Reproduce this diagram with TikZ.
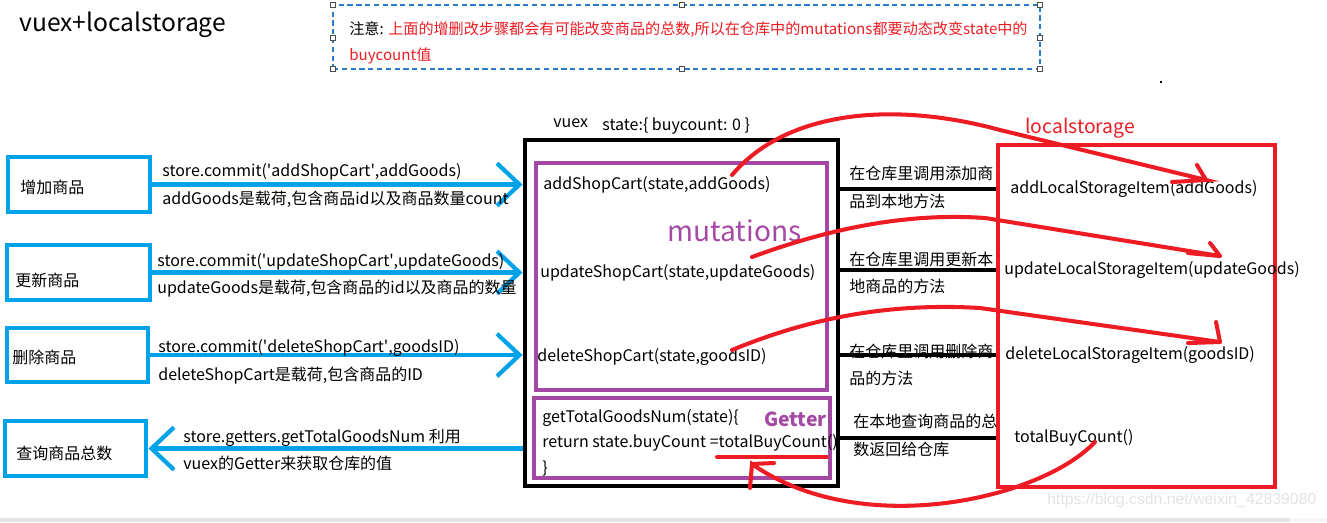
\documentclass[tikz,border=0pt]{standalone}
\usepackage{fontspec}
\setmainfont{Noto Sans CJK SC}
\newfontfamily\wmfont{Liberation Sans}
\usetikzlibrary{fit,arrows.meta}
\definecolor{skyblue}{HTML}{00A2E8}
\definecolor{mutpurple}{HTML}{A349A4}
\definecolor{lsred}{HTML}{ED1C24}
\definecolor{noteblue}{HTML}{2A7CC7}
\tikzset{
  txt/.style={anchor=west,inner sep=0pt},
  bluebox/.style={draw=skyblue,line width=2.8pt,inner sep=0pt},
  purplebox/.style={draw=mutpurple,line width=2.5pt,inner sep=0pt},
  bluearrow/.style={draw=skyblue,line width=2.4pt,-{Straight Barb[length=0.45cm,width=0.85cm]}},
  link/.style={line width=2.2pt},
  redline/.style={draw=lsred,line width=2.3pt,line cap=round},
}
\begin{document}
\begin{tikzpicture}[x=0.02cm,y=-0.02cm,font=\fontsize{9.1}{11}\selectfont]
\useasboundingbox (0,0) rectangle (1327,522);
\fill[gray!22] (0,518) rectangle (1290,522);
\fill[gray!8] (1290,518) rectangle (1327,522);
\fill (1160,81) rectangle (1162,83);

\node[txt,font=\fontsize{14}{17}\selectfont] (title) at (19,25) {vuex+localstorage};

\node[draw=noteblue,line width=0.6pt,dash pattern=on 3pt off 2pt,inner sep=0pt,fit={(333,5)(1040,69)}] (note) {};
\foreach \x/\y in {333/5,682/5,1040/5,333/38,1040/38,333/69,682/69,1040/69}
  \draw[gray!60!black,fill=white,line width=0.5pt] (\x,\y) +(-2.5,-2.5) rectangle +(2.5,2.5);
\node[txt,font=\fontsize{8.6}{10}\selectfont] (note1) at (349,30) {注意: \textcolor{lsred}{上面的增删改步骤都会有可能改变商品的总数,所以在仓库中的mutations都要动态改变state中的}};
\node[txt,font=\fontsize{8.6}{10}\selectfont,text=lsred] (note2) at (349,56) {buycount值};

\node[bluebox,fit={(8,157)(150,212)}] (add) {};
\node[bluebox,fit={(7,245)(150,300)}] (upd) {};
\node[bluebox,fit={(7,328)(148,382)}] (del) {};
\node[bluebox,fit={(5,421)(146,476)}] (qry) {};
\node[txt] (addname) at (20,187) {增加商品};
\node[txt] (updname) at (15,280) {更新商品};
\node[txt] (delname) at (12,357) {删除商品};
\node[txt] (qryname) at (16,453) {查询商品总数};

\node[draw,line width=2.8pt,inner sep=0pt,fit={(525,140)(838,486)}] (vuex) {};
\node[txt] (vuexname) at (553,123) {vuex};
\node[txt] (state) at (602,126) {state:\{ buycount: 0 \}};
\node[purplebox,fit={(536,163)(827,390)}] (mut) {};
\node[purplebox,fit={(534,398)(830,478)}] (getter) {};
\node[txt,text=mutpurple,font=\fontsize{16}{19}\selectfont] (mutname) at (667,231) {mutations};
\node[txt] (mutadd) at (543,185) {addShopCart(state,addGoods)};
\node[txt] (mutupd) at (540,273) {updateShopCart(state,updateGoods)};
\node[txt] (mutdel) at (537,357) {deleteShopCart(state,goodsID)};
\node[txt] (get1) at (542,418) {getTotalGoodsNum(state)\{};
\node[txt] (get2) at (542,443) {return state.buyCount =totalBuyCount()};
\node[txt] (get3) at (542,469) {\}};
\node[txt,text=mutpurple,font=\fontsize{11}{13}\selectfont\bfseries] (gettername) at (764,419) {Getter};

\node[draw=lsred,line width=2.8pt,inner sep=0pt,fit={(998,145)(1275,487)}] (ls) {};
\node[txt,text=lsred,font=\fontsize{11}{13}\selectfont] (lsname) at (1025,128) {localstorage};
\node[txt] (lsadd) at (1010,189) {addLocalStorageItem(addGoods)};
\node[txt] (lsupd) at (1004,270) {updateLocalStorageItem(updateGoods)};
\node[txt] (lsdel) at (1005,355) {deleteLocalStorageItem(goodsID)};
\node[txt] (lsqry) at (1014,438) {totalBuyCount()};

\draw[bluearrow] (add.east) -- (add.east -| vuex.west);
\draw[bluearrow] (upd.east) -- (upd.east -| vuex.west);
\draw[bluearrow] (del.east) -- (del.east -| vuex.west);
\draw[bluearrow] (qry.east -| vuex.west) -- (qry.east);
\node[txt] (c1a) at (162,172) {store.commit(\textquotesingle addShopCart\textquotesingle,addGoods)};
\node[txt] (c1b) at (162,199) {addGoods是载荷,包含商品id以及商品数量count};
\node[txt] (c2a) at (157,262) {store.commit(\textquotesingle updateShopCart\textquotesingle,updateGoods)};
\node[txt] (c2b) at (157,289) {updateGoods是载荷,包含商品的id以及商品的数量};
\node[txt] (c3a) at (158,348) {store.commit(\textquotesingle deleteShopCart\textquotesingle,goodsID)};
\node[txt] (c3b) at (158,376) {deleteShopCart是载荷,包含商品的ID};
\node[txt] (c4a) at (183,438) {store.getters.getTotalGoodsNum 利用};
\node[txt] (c4b) at (183,463) {vuex的Getter来获取仓库的值};

\draw[link] (vuex.east |- lsadd) -- (ls.west |- lsadd);
\draw[link] (vuex.east |- lsupd) -- (ls.west |- lsupd);
\draw[link] (vuex.east |- lsdel) -- (ls.west |- lsdel);
\draw[link] (vuex.east |- lsqry) -- (ls.west |- lsqry);
\node[txt] (t1a) at (849,173) {在仓库里调用添加商};
\node[txt] (t1b) at (849,201) {品到本地方法};
\node[txt] (t2a) at (849,259) {在仓库里调用更新本};
\node[txt] (t2b) at (849,286) {地商品的方法};
\node[txt] (t3a) at (849,351) {在仓库里调用删除商};
\node[txt] (t3b) at (849,378) {品的方法};
\node[txt] (t4a) at (853,421) {在本地查询商品的总};
\node[txt] (t4b) at (853,449) {数返回给仓库};

\coordinate (r1s) at (732,175); \coordinate (r1e) at (1206,180);
\coordinate (r2s) at (752,257); \coordinate (r2e) at (1220,256);
\coordinate (r3s) at (732,350); \coordinate (r3e) at (1220,342);
\coordinate (r4s) at (1095,442); \coordinate (r4e) at (752,464);
\draw[redline] (r1s) .. controls (785,112) and (890,100) .. (1000,130) -- (r1e) -- ++(-34,2) (r1e) -- ++(-9,-15);
\draw[redline] (r2s) .. controls (820,232) and (900,212) .. (985,218) -- (r2e) -- ++(-32,-3) (r2e) -- ++(-10,-13);
\draw[redline] (r3s) .. controls (800,322) and (880,302) .. (980,308) -- (r3e) -- ++(-32,1) (r3e) -- ++(-4,-20);
\draw[redline] (r4s) .. controls (1040,500) and (860,540) .. (r4e) -- ++(-2,24) (r4e) -- ++(22,-1);
\draw[redline] (717,457) -- (827,457);

\node[txt,text=gray!22,font=\wmfont\fontsize{9}{11}\selectfont] (wm) at (1047,500) {https://blog.csdn.net/weixin\_42839080};
\end{tikzpicture}
\end{document}
